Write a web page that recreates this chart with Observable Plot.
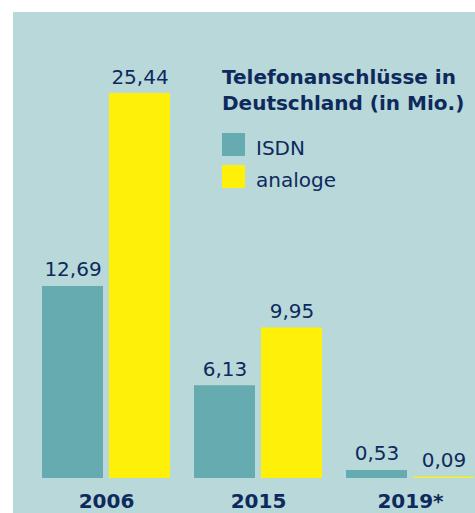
<!DOCTYPE html>
<html>
<head>
<meta charset="utf-8">
<script src="https://cdn.jsdelivr.net/npm/d3@7"></script>
<script src="https://cdn.jsdelivr.net/npm/@observablehq/plot@0.6"></script>
<style>
  html, body { margin: 0; padding: 0; background: #ffffff; }
  #wrap { position: absolute; left: 13px; top: 12px; width: 462px; height: 501px; background: #b8d8da; overflow: hidden; font-family: "DejaVu Sans", sans-serif; color: #0e2a5c; }
  #title { position: absolute; left: 209px; top: 52px; font-size: 20px; font-weight: bold; line-height: 26px; white-space: nowrap; }
  .sw { position: absolute; left: 209px; width: 23px; height: 23px; }
  .lt { position: absolute; left: 243px; font-size: 20px; line-height: 23px; white-space: nowrap; }
  svg { position: absolute; left: 0; top: 0; }
</style>
</head>
<body>
<div id="wrap"></div>
<script>
const years = ["2006", "2015", "2019*"];
const series = ["ISDN", "analoge"];
const isdnValues = [12.69, 6.13, 0.53];
const analogValues = [25.44, 9.95, 0.09];
const seriesColors = ["#66abaf", "#fff00a"];
const titleLines = ["Telefonanschlüsse in", "Deutschland (in Mio.)"];

const rows = [];
years.forEach((y, i) => {
  rows.push({year: y, series: series[0], value: isdnValues[i]});
  rows.push({year: y, series: series[1], value: analogValues[i]});
});
const fmt = v => d3.format(".2f")(v).replace(".", ",");

const chart = Plot.plot({
  width: 462,
  height: 501,
  marginTop: 12,
  marginBottom: 35,
  marginLeft: 28,
  marginRight: 0,
  style: {background: "transparent", fontFamily: "DejaVu Sans", color: "#0e2a5c"},
  fx: {domain: years, paddingInner: 0.145, paddingOuter: 0, label: null},
  x: {domain: series, paddingInner: 0.088, paddingOuter: 0, axis: null},
  y: {domain: [0, 30], axis: null},
  color: {domain: series, range: seriesColors},
  marks: [
    Plot.barY(rows, {fx: "year", x: "series", y: "value", fill: "series"}),
    Plot.text(rows, {fx: "year", x: "series", y: "value", text: d => fmt(d.value), dy: -10, lineAnchor: "bottom", fontSize: 20, fill: "#0e2a5c"}),
    Plot.axisFx({anchor: "bottom", tickSize: 0, tickPadding: 15, fontSize: 20, fontWeight: "bold", label: null, fill: "#0e2a5c"})
  ]
});

const wrap = document.getElementById("wrap");
wrap.appendChild(chart);

const title = document.createElement("div");
title.id = "title";
title.innerHTML = titleLines.join("<br>");
wrap.appendChild(title);

series.forEach((s, i) => {
  const sw = document.createElement("div");
  sw.className = "sw";
  sw.style.top = (121 + i * 32) + "px";
  sw.style.background = seriesColors[i];
  wrap.appendChild(sw);
  const lt = document.createElement("div");
  lt.className = "lt";
  lt.style.top = (125 + i * 32) + "px";
  lt.textContent = s;
  wrap.appendChild(lt);
});
</script>
</body>
</html>
